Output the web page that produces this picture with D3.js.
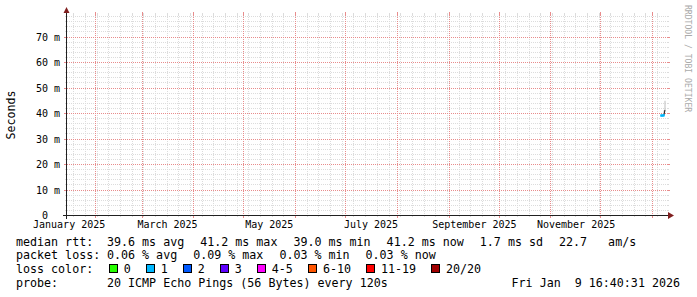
<!DOCTYPE html>
<html>
<head>
<meta charset="utf-8">
<title>Smokeping latency</title>
<style>
  body { margin: 0; background: #fff; }
  svg { display: block; font-family: "DejaVu Sans Mono", monospace; }
  text { white-space: pre; }
</style>
</head>
<body>
<svg width="697" height="297"></svg>
<script src="https://cdnjs.cloudflare.com/ajax/libs/d3/7.8.5/d3.min.js"></script>
<script>
// the few samples there are, all at the right edge of the year
const sampleTimes = ["2026-01-06T10:00", "2026-01-07T00:00", "2026-01-07T14:00", "2026-01-08T04:00", "2026-01-08T18:00"]
const medianRtt = [39.0, 39.0, 39.0, 39.1, 41.2]
const smokeLow = [38.8, 38.9, 38.8, 39.0, 40.5]
const smokeHigh = [39.3, 39.4, 39.3, 41.0, 44.8]
const lostPings = [1, 1, 1, 1, 1]

const lossLabels = ["0", "1", "2", "3", "4-5", "6-10", "11-19", "20/20"]
const lossColors = ["#26ff00", "#00b8ff", "#0059ff", "#5e00ff", "#ff00ff", "#ff5500", "#ff0000", "#a00000"]
const lossUpper = [0, 1, 2, 3, 5, 10, 19, 20]

const yTicks = [0, 10, 20, 30, 40, 50, 60, 70]
const monthLabels = ["2025-01-01", "2025-03-01", "2025-05-01", "2025-07-01", "2025-09-01", "2025-11-01"]

const rttStats = ["39.6 ms avg", "41.2 ms max", "39.0 ms min", "41.2 ms now", "1.7 ms sd", "22.7   am/s"]
const lossStats = ["0.06 % avg", "0.09 % max", "0.03 % min", "0.03 % now"]
const probeText = "20 ICMP Echo Pings (56 Bytes) every 120s"
const stamp = "Fri Jan  9 16:40:31 2026"

const gridColor = "#dcdcdc"
const mgridColor = "#e88c8c"
const arrowColor = "#801f1f"

const svg = d3.select("svg")
svg.append("rect").attr("width", 697).attr("height", 297).attr("fill", "#fff")

const x = d3.scaleTime()
    .domain([new Date("2025-01-15T05:00"), new Date("2026-01-10T00:00")])
    .range([67, 667])
const y = d3.scaleLinear()
    .domain([0, 200 / 2.55])
    .range([215, 15])

const px = v => Math.round(v) + 0.5
const [X0, X1] = x.range()
const [Y0, Y1] = y.range()

// grid
const grid = svg.append("g").attr("shape-rendering", "crispEdges")

const minorY = d3.range(2, y.domain()[1], 2).filter(v => v % 10 !== 0)
const majorY = yTicks.filter(v => v > 0)
const weeks = d3.timeSunday.range(...x.domain())
const months = d3.timeMonth.range(...x.domain())

const hLines = (vals, color, tick) => {
    grid.selectAll(null).data(vals).join("line")
        .attr("x1", X0).attr("x2", X1)
        .attr("y1", d => px(y(d))).attr("y2", d => px(y(d)))
        .attr("stroke", color).attr("stroke-dasharray", "1,1")
    grid.selectAll(null).data(vals).join("path")
        .attr("d", d => `M${X0 - tick},${px(y(d))}H${X0}M${X1},${px(y(d))}H${X1 + tick}`)
        .attr("stroke", color)
}
const vLines = (vals, color, tick) => {
    grid.selectAll(null).data(vals).join("line")
        .attr("x1", d => px(x(d))).attr("x2", d => px(x(d)))
        .attr("y1", Y1).attr("y2", Y0)
        .attr("stroke", color).attr("stroke-dasharray", "1,1")
    grid.selectAll(null).data(vals).join("path")
        .attr("d", d => `M${px(x(d))},${Y0}V${Y0 + tick}M${px(x(d))},${Y1 - tick}V${Y1}`)
        .attr("stroke", color)
}
hLines(minorY, gridColor, 2)
vLines(weeks, gridColor, 2)
hLines(majorY, mgridColor, 3)
vLines(months, mgridColor, 3)

// smoke and median
const samples = sampleTimes.map((t, i) => ({
    t: new Date(t), med: medianRtt[i], lo: smokeLow[i], hi: smokeHigh[i], loss: lostPings[i]
}))

svg.append("g").selectAll("rect").data(samples).join("rect")
    .attr("x", d => x(d.t) - 0.5)
    .attr("width", 1.2)
    .attr("y", d => y(d.hi))
    .attr("height", d => y(d.lo) - y(d.hi))
    .attr("fill", "#c8c8c8")

svg.append("path")
    .datum(samples)
    .attr("fill", "none")
    .attr("stroke", "#202020")
    .attr("stroke-width", 1)
    .attr("d", d3.line().x(d => x(d.t)).y(d => y(d.med)))

const lossColor = n => lossColors[lossUpper.findIndex(u => n <= u)]
svg.append("g").selectAll("rect").data(samples.slice(0, -1)).join("rect")
    .attr("x", d => x(d.t) - 0.8)
    .attr("width", 1.6)
    .attr("y", d => y(d.med) - 1.2)
    .attr("height", 2.4)
    .attr("fill", d => lossColor(d.loss))

// axes
svg.append("path")
    .attr("d", `M${X0 - 4},${Y0 + 0.5}H${X1 + 1}M${X0 - 0.5},${Y0 + 4}V${Y1 - 2}`)
    .attr("stroke", "#202020")
    .attr("shape-rendering", "crispEdges")
svg.append("path")
    .attr("d", `M${X1 + 1},${Y0 - 3}L${X1 + 7},${Y0 + 0.5}L${X1 + 1},${Y0 + 4}Z` +
        `M${X0 - 3.5},${Y1 - 2}L${X0 - 0.5},${Y1 - 8}L${X0 + 2.5},${Y1 - 2}Z`)
    .attr("fill", arrowColor)

// zero has no unit, rrdtool pads it with blanks in place of " m"
svg.append("g")
    .attr("font-size", 10)
    .attr("text-anchor", "end")
    .selectAll("text").data(yTicks).join("text")
    .attr("x", d => d === 0 ? 48 : 60)
    .attr("y", d => px(y(d)))
    .attr("dy", "0.36em")
    .text(d => d === 0 ? "0" : d + " m")

svg.append("g")
    .attr("font-size", 10)
    .attr("text-anchor", "middle")
    .selectAll("text").data(monthLabels).join("text")
    .attr("x", d => x(d3.timeHour.offset(new Date(d + "T00:00"), 372)))
    .attr("y", 228)
    .text(d => d3.timeFormat("%B %Y")(new Date(d + "T00:00")))

svg.append("text")
    .attr("transform", `translate(15,${(Y0 + Y1) / 2}) rotate(-90)`)
    .attr("text-anchor", "middle")
    .attr("font-size", 11.6)
    .text("Seconds")

svg.append("text")
    .attr("transform", "translate(685,5) rotate(90)")
    .attr("font-size", 8.1)
    .attr("fill", "#aaaaaa")
    .text("RRDTOOL / TOBI OETIKER")

// legend
const fontSize = 11.67
const rowY = [245.5, 259.2, 272.9, 286.6]
const legend = svg.append("g").attr("font-size", fontSize)

const textRow = (label, items, yPos) => {
    legend.append("text").attr("x", 16).attr("y", yPos).text(label)
    let cursor = 107
    items.forEach(item => {
        const t = legend.append("text").attr("x", cursor).attr("y", yPos).text(item)
        cursor += t.node().getComputedTextLength() + 16
    })
}
textRow("median rtt:", rttStats, rowY[0])
textRow("packet loss:", lossStats, rowY[1])

legend.append("text").attr("x", 16).attr("y", rowY[2]).text("loss color:")
let cursor = 108.7
lossLabels.forEach((label, i) => {
    legend.append("rect")
        .attr("x", Math.round(cursor) + 0.5)
        .attr("y", Math.round(rowY[2] - 8.5) + 0.5)
        .attr("width", 8).attr("height", 8)
        .attr("fill", lossColors[i])
        .attr("stroke", "#000")
        .attr("shape-rendering", "crispEdges")
    const t = legend.append("text").attr("x", cursor + 15).attr("y", rowY[2]).text(label)
    cursor += 15 + t.node().getComputedTextLength() + 15
})

textRow("probe:", [probeText], rowY[3])
legend.append("text")
    .attr("x", 680).attr("y", rowY[3])
    .attr("text-anchor", "end")
    .text(stamp)
</script>
</body>
</html>
